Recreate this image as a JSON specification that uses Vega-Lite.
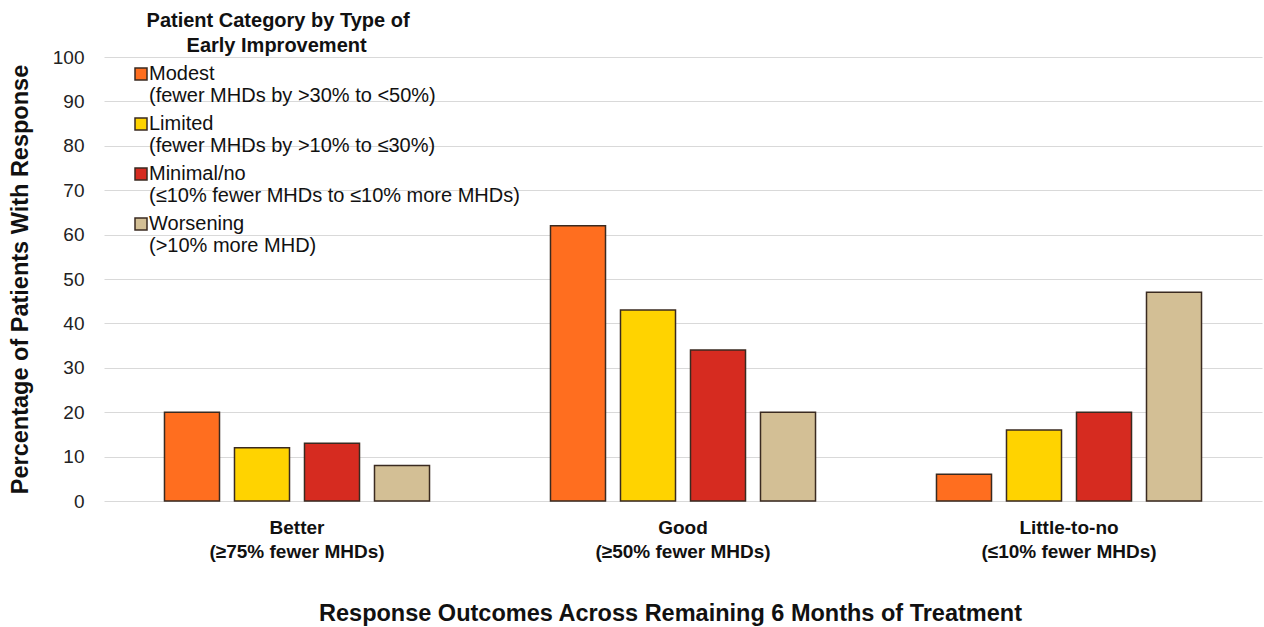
{
  "$schema": "https://vega.github.io/schema/vega-lite/v6.json",
  "width": 1158,
  "height": 444,
  "autosize": {"type": "none"},
  "padding": {"left": 104, "top": 57, "right": 2, "bottom": 126},
  "background": "white",
  "config": {"font": "Liberation Sans", "view": {"stroke": null}},
  "data": {
    "values": [
      {"outcome": "Better", "category": "Modest", "value": 20},
      {"outcome": "Better", "category": "Limited", "value": 12},
      {"outcome": "Better", "category": "Minimal/no", "value": 13},
      {"outcome": "Better", "category": "Worsening", "value": 8},
      {"outcome": "Good", "category": "Modest", "value": 62},
      {"outcome": "Good", "category": "Limited", "value": 43},
      {"outcome": "Good", "category": "Minimal/no", "value": 34},
      {"outcome": "Good", "category": "Worsening", "value": 20},
      {"outcome": "Little-to-no", "category": "Modest", "value": 6},
      {"outcome": "Little-to-no", "category": "Limited", "value": 16},
      {"outcome": "Little-to-no", "category": "Minimal/no", "value": 20},
      {"outcome": "Little-to-no", "category": "Worsening", "value": 47}
    ]
  },
  "mark": {"type": "bar", "stroke": "#3a2a20", "strokeWidth": 1.5},
  "encoding": {
    "x": {
      "field": "outcome",
      "type": "nominal",
      "sort": ["Better", "Good", "Little-to-no"],
      "scale": {"paddingInner": 0, "paddingOuter": 0},
      "axis": {
        "labelAngle": 0,
        "labelFontSize": 19,
        "labelFontWeight": "bold",
        "labelColor": "#111",
        "labelLineHeight": 24,
        "labelPadding": 17,
        "labelExpr": "datum.value == 'Better' ? ['Better', '(≥75% fewer MHDs)'] : datum.value == 'Good' ? ['Good', '(≥50% fewer MHDs)'] : ['Little-to-no', '(≤10% fewer MHDs)']",
        "ticks": false,
        "domain": false,
        "grid": false,
        "title": "Response Outcomes Across Remaining 6 Months of Treatment",
        "titleFontSize": 23.5,
        "titleFontWeight": "bold",
        "titleColor": "#111",
        "titleX": 566,
        "titleY": 100,
        "titleBaseline": "top"
      }
    },
    "xOffset": {
      "field": "category",
      "type": "nominal",
      "sort": ["Modest", "Limited", "Minimal/no", "Worsening"],
      "scale": {"paddingInner": 0.214, "paddingOuter": 0.864}
    },
    "y": {
      "field": "value",
      "type": "quantitative",
      "scale": {"domain": [0, 100]},
      "axis": {
        "values": [0, 10, 20, 30, 40, 50, 60, 70, 80, 90, 100],
        "grid": true,
        "gridColor": "#d9d9d9",
        "gridWidth": 1.2,
        "domain": false,
        "ticks": false,
        "labelFontSize": 19,
        "labelColor": "#222",
        "labelPadding": 20,
        "title": "Percentage of Patients With Response",
        "titleFontSize": 23.5,
        "titleFontWeight": "bold",
        "titleColor": "#111",
        "titlePadding": 20
      }
    },
    "color": {
      "field": "category",
      "type": "nominal",
      "sort": ["Modest", "Limited", "Minimal/no", "Worsening"],
      "scale": {
        "domain": ["Modest", "Limited", "Minimal/no", "Worsening"],
        "range": ["#FF6E1F", "#FFD300", "#D62B20", "#D3BF95"]
      },
      "legend": {
        "orient": "none",
        "legendX": 27,
        "legendY": -46,
        "padding": 0,
        "title": ["\u200b\u2002\u00a0Patient Category by Type of", "\u200b\u2002\u2002\u2002\u2002\u2002\u00a0Early Improvement"],
        "titleFontSize": 20,
        "titleFontWeight": "bold",
        "titleColor": "#111",
        "titleLineHeight": 25,
        "titlePadding": 8,
        "titleLimit": 1000,
        "labelFontSize": 20,
        "labelColor": "#111",
        "labelLineHeight": 23.5,
        "labelBaseline": "middle",
        "labelOffset": -2,
        "labelLimit": 1000,
        "labelExpr": "datum.value == 'Modest' ? ['Modest', '(fewer MHDs by >30% to <50%)'] : datum.value == 'Limited' ? ['Limited', '(fewer MHDs by >10% to ≤30%)'] : datum.value == 'Minimal/no' ? ['Minimal/no', '(≤10% fewer MHDs to ≤10% more MHDs)'] : ['Worsening', '(>10% more MHD)']",
        "symbolType": "square",
        "symbolSize": 144,
        "symbolStrokeColor": "#3a2a20",
        "symbolStrokeWidth": 1.5,
        "rowPadding": 8
      }
    }
  }
}
